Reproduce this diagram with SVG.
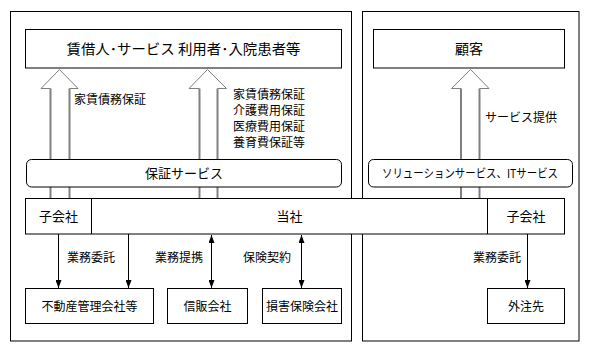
<svg xmlns="http://www.w3.org/2000/svg" width="595" height="346" viewBox="0 0 595 346">
<style>
text{font-family:"Noto Sans CJK JP","Noto Sans",sans-serif;fill:#000}
.t12{font-size:12px}
.t13{font-size:13px}
.t14{font-size:14px}
.c{text-anchor:middle}
.box{fill:#fff;stroke:#000;stroke-width:1}
.frame{fill:none;stroke:#000;stroke-width:1}
.shaft{stroke:#808080;stroke-width:2;fill:none}
.head{stroke:#808080;stroke-width:1;fill:#fff}
.ln{stroke:#000;stroke-width:1;fill:none}
</style>
<defs>
<marker id="ah" viewBox="0 0 8 6" refX="8" refY="3" markerWidth="8" markerHeight="6" markerUnits="userSpaceOnUse" orient="auto-start-reverse">
<path d="M0,0 L8,3 L0,6 z" fill="#000"/>
</marker>
</defs>
<g id="frames">
<rect class="frame" x="10.5" y="11.5" width="341" height="329.5"/>
<rect class="frame" x="362.5" y="11.5" width="216.5" height="329.5"/>
</g>
<g id="connectors">
<g id="bigarrow1">
<line class="shaft" x1="50.5" y1="88" x2="50.5" y2="198"/>
<line class="shaft" x1="69.5" y1="88" x2="69.5" y2="198"/>
<path class="head" d="M50.5,88.5 H41 L59.5,69.5 L78,88.5 H69.5"/>
</g>
<g id="bigarrow2">
<line class="shaft" x1="199.5" y1="88" x2="199.5" y2="198"/>
<line class="shaft" x1="217.5" y1="88" x2="217.5" y2="198"/>
<path class="head" d="M199.5,88.5 H189 L207.5,69.5 L226.5,88.5 H217.5"/>
</g>
<g id="bigarrow3">
<line class="shaft" x1="461" y1="88" x2="461" y2="198"/>
<line class="shaft" x1="479.5" y1="88" x2="479.5" y2="198"/>
<path class="head" d="M461,88.5 H451.5 L470.5,69.5 L489,88.5 H479.5"/>
</g>
<line class="ln" x1="58.5" y1="234" x2="58.5" y2="288" marker-end="url(#ah)"/>
<line class="ln" x1="128.5" y1="234" x2="128.5" y2="288" marker-end="url(#ah)"/>
<line class="ln" x1="211.5" y1="235" x2="211.5" y2="288" marker-start="url(#ah)" marker-end="url(#ah)"/>
<line class="ln" x1="301.5" y1="235" x2="301.5" y2="288" marker-start="url(#ah)" marker-end="url(#ah)"/>
<line class="ln" x1="527.5" y1="234" x2="527.5" y2="288" marker-end="url(#ah)"/>
<text class="t12" x="74" y="103.5">家賃債務保証</text>
<text class="t12" x="233" y="98.5">家賃債務保証</text>
<text class="t12" x="233" y="114.5">介護費用保証</text>
<text class="t12" x="233" y="130.5">医療費用保証</text>
<text class="t12" x="233" y="146.5">養育費保証等</text>
<text class="t12" x="485" y="121.5">サービス提供</text>
<text class="t12" x="67" y="261.5">業務委託</text>
<text class="t12" x="155" y="261.5">業務提携</text>
<text class="t12" x="243" y="261.5">保険契約</text>
<text class="t12" x="473" y="261.5">業務委託</text>
</g>
<g id="users">
<rect class="box" x="25.5" y="29.5" width="316" height="38.5"/>
<text class="t14 c" x="183.5" y="54" textLength="234" lengthAdjust="spacingAndGlyphs">賃借人･サービス 利用者･入院患者等</text>
</g>
<g id="customer">
<rect class="box" x="373.5" y="29.5" width="191" height="38.5"/>
<text class="t14 c" x="469" y="54">顧客</text>
</g>
<g id="guarantee">
<rect class="box" x="26.5" y="159.5" width="315" height="27.5" rx="5"/>
<text class="t13 c" x="184" y="177.5">保証サービス</text>
</g>
<g id="solution">
<rect class="box" x="368.5" y="159.5" width="204" height="27.5" rx="5"/>
<text class="t12 c" x="470" y="177.5" textLength="176" lengthAdjust="spacingAndGlyphs">ソリューションサービス、ITサービス</text>
</g>
<g id="company">
<rect class="box" x="25.5" y="198.5" width="539" height="35.5"/>
<line class="ln" x1="91.5" y1="198.5" x2="91.5" y2="234"/>
<line class="ln" x1="487.5" y1="198.5" x2="487.5" y2="234"/>
<text class="t13 c" x="58.5" y="221">子会社</text>
<text class="t13 c" x="289.5" y="221">当社</text>
<text class="t13 c" x="526" y="221">子会社</text>
</g>
<g id="realestate">
<rect class="box" x="25.5" y="288.5" width="128" height="35"/>
<text class="t12 c" x="89.5" y="310.5">不動産管理会社等</text>
</g>
<g id="credit">
<rect class="box" x="167.5" y="288.5" width="80" height="35"/>
<text class="t12 c" x="207.5" y="310.5">信販会社</text>
</g>
<g id="insurance">
<rect class="box" x="262.5" y="288.5" width="79" height="35"/>
<text class="t12 c" x="302" y="310.5">損害保険会社</text>
</g>
<g id="outsource">
<rect class="box" x="487.5" y="288.5" width="77" height="35"/>
<text class="t12 c" x="526" y="310.5">外注先</text>
</g>
</svg>
